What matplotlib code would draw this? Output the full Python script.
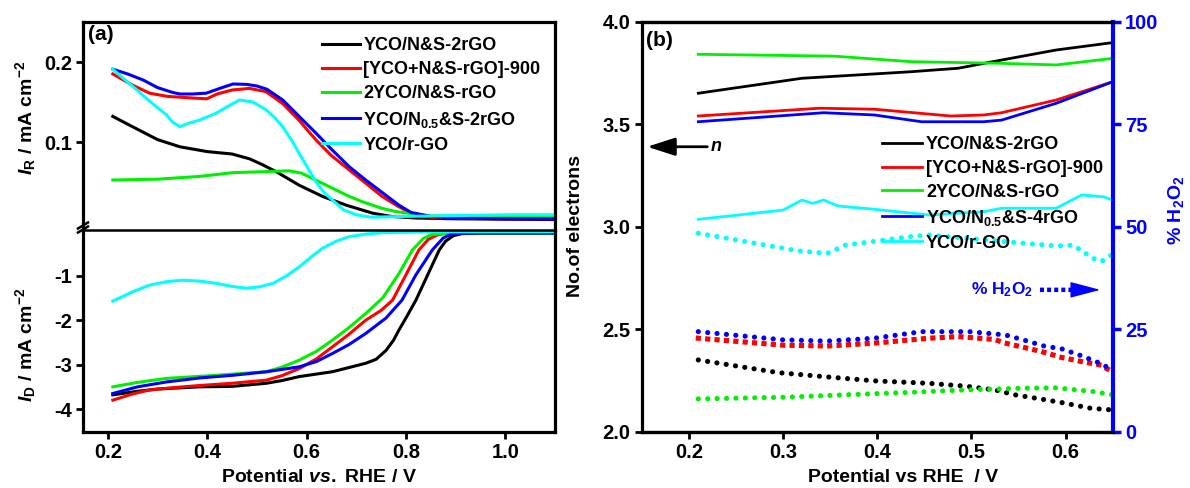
import matplotlib
matplotlib.use('Agg')
import matplotlib.pyplot as plt
from matplotlib.lines import Line2D

plt.rcParams['font.family'] = ['Liberation Sans', 'DejaVu Sans']
plt.rcParams['font.weight'] = 'bold'
plt.rcParams['axes.labelweight'] = 'bold'
plt.rcParams['mathtext.fontset'] = 'custom'
plt.rcParams['mathtext.rm'] = 'Liberation Sans:bold'
plt.rcParams['mathtext.it'] = 'Liberation Sans:italic:bold'
plt.rcParams['mathtext.bf'] = 'Liberation Sans:bold'
plt.rcParams['mathtext.default'] = 'rm'
plt.rcParams['axes.unicode_minus'] = False

# ---- panel (a): ring current (top) ----
x_black_r = [0.21, 0.25, 0.30, 0.345, 0.40, 0.45, 0.485, 0.51, 0.54, 0.585, 0.632, 0.68, 0.733, 0.77, 0.82, 0.90, 1.1]
i_black_r = [0.132, 0.119, 0.103, 0.094, 0.088, 0.085, 0.079, 0.072, 0.0625, 0.046, 0.032, 0.021, 0.011, 0.007, 0.005, 0.004, 0.003]
x_red_r = [0.21, 0.25, 0.284, 0.32, 0.345, 0.37, 0.399, 0.42, 0.45, 0.485, 0.518, 0.552, 0.585, 0.619,
           0.65, 0.686, 0.72, 0.752, 0.786, 0.81, 0.85, 0.90, 1.0, 1.1]
i_red_r = [0.185, 0.171, 0.161, 0.157, 0.156, 0.155, 0.154, 0.160, 0.165, 0.167, 0.163, 0.148, 0.127, 0.1025,
           0.083, 0.065, 0.048, 0.032, 0.019, 0.011, 0.006, 0.005, 0.004, 0.004]
x_green_r = [0.21, 0.30, 0.385, 0.452, 0.519, 0.565, 0.59, 0.61, 0.646, 0.686, 0.712, 0.752, 0.78, 0.847, 0.95, 1.1]
i_green_r = [0.0525, 0.0535, 0.057, 0.0617, 0.063, 0.064, 0.061, 0.055, 0.044, 0.032, 0.0254, 0.017, 0.013, 0.0075, 0.007, 0.007]
x_blue_r = [0.21, 0.24, 0.271, 0.30, 0.33, 0.345, 0.37, 0.398, 0.43, 0.452, 0.48, 0.50, 0.52, 0.552, 0.585,
            0.619, 0.65, 0.686, 0.72, 0.752, 0.786, 0.81, 0.85, 0.90, 1.0, 1.1]
i_blue_r = [0.191, 0.185, 0.1775, 0.168, 0.162, 0.160, 0.160, 0.161, 0.168, 0.1725, 0.172, 0.170, 0.166, 0.1525, 0.132,
            0.111, 0.091, 0.069, 0.052, 0.037, 0.021, 0.012, 0.007, 0.005, 0.004, 0.004]
x_cyan_r = [0.21, 0.251, 0.29, 0.318, 0.33, 0.345, 0.36, 0.385, 0.418, 0.44, 0.465, 0.492, 0.519, 0.535, 0.552,
            0.57, 0.585, 0.60, 0.619, 0.635, 0.652, 0.675, 0.70, 0.73, 0.80, 0.9, 1.0, 1.1]
i_cyan_r = [0.191, 0.169, 0.148, 0.134, 0.125, 0.119, 0.123, 0.1275, 0.136, 0.144, 0.1525, 0.150, 0.140, 0.131, 0.119,
            0.102, 0.086, 0.070, 0.050, 0.037, 0.0275, 0.015, 0.009, 0.006, 0.007, 0.008, 0.009, 0.009]

# ---- panel (a): disk current (bottom) ----
x_black_d = [0.21, 0.26, 0.30, 0.385, 0.45, 0.519, 0.55, 0.585, 0.652, 0.719, 0.74, 0.76, 0.775, 0.786, 0.80,
             0.82, 0.845, 0.867, 0.88, 0.895, 0.913, 0.95, 1.1]
i_black_d = [-3.68, -3.60, -3.55, -3.50, -3.49, -3.42, -3.36, -3.27, -3.16, -2.97, -2.88, -2.68, -2.45, -2.22, -1.95,
             -1.55, -0.95, -0.42, -0.22, -0.10, -0.05, -0.04, -0.04]
x_red_d = [0.21, 0.25, 0.284, 0.33, 0.385, 0.45, 0.519, 0.55, 0.585, 0.62, 0.652, 0.685, 0.719, 0.75, 0.773,
           0.80, 0.826, 0.845, 0.865, 0.88, 0.95, 1.1]
i_red_d = [-3.80, -3.66, -3.57, -3.52, -3.47, -3.42, -3.35, -3.25, -3.09, -2.87, -2.60, -2.32, -2.00, -1.78, -1.55,
           -0.98, -0.42, -0.18, -0.07, -0.05, -0.04, -0.04]
x_green_d = [0.21, 0.26, 0.318, 0.418, 0.519, 0.55, 0.585, 0.62, 0.652, 0.685, 0.719, 0.753, 0.786, 0.813, 0.835,
             0.85, 0.867, 0.95, 1.1]
i_green_d = [-3.50, -3.40, -3.31, -3.24, -3.16, -3.06, -2.90, -2.70, -2.45, -2.17, -1.85, -1.50, -0.95, -0.42, -0.16,
             -0.08, -0.05, -0.04, -0.04]
x_blue_d = [0.21, 0.26, 0.318, 0.385, 0.452, 0.52, 0.585, 0.62, 0.652, 0.685, 0.719, 0.76, 0.792, 0.82, 0.853,
            0.875, 0.89, 0.905, 0.95, 1.1]
i_blue_d = [-3.65, -3.50, -3.39, -3.30, -3.24, -3.16, -3.05, -2.93, -2.75, -2.55, -2.30, -1.95, -1.55, -0.98, -0.42,
            -0.15, -0.07, -0.05, -0.04, -0.04]
x_cyan_d = [0.21, 0.25, 0.284, 0.32, 0.351, 0.385, 0.418, 0.45, 0.479, 0.505, 0.533, 0.56, 0.585, 0.61, 0.632,
            0.66, 0.686, 0.72, 0.753, 0.85, 1.1]
i_cyan_d = [-1.57, -1.36, -1.21, -1.13, -1.10, -1.12, -1.17, -1.24, -1.28, -1.25, -1.17, -1.00, -0.80, -0.57, -0.38,
            -0.22, -0.12, -0.06, -0.03, -0.01, -0.01]

labels_a = ['YCO/N&S-2rGO', '[YCO+N&S-rGO]-900', '2YCO/N&S-rGO',
            'YCO/N$_{0.5}$&S-2rGO', 'YCO/r-GO']
labels_b = ['YCO/N&S-2rGO', '[YCO+N&S-rGO]-900', '2YCO/N&S-rGO',
            'YCO/N$_{0.5}$&S-4rGO', 'YCO/r-GO']
colors = ['#000000', '#ff0000', '#00f000', '#0000ff', '#00ffff']

# ---- panel (b): electron number n (solid) ----
x_black_n = [0.21, 0.32, 0.436, 0.486, 0.532, 0.59, 0.65]
n_black = [3.651, 3.724, 3.756, 3.773, 3.813, 3.862, 3.898]
x_red_n = [0.21, 0.339, 0.397, 0.478, 0.513, 0.532, 0.59, 0.65]
n_red = [3.54, 3.578, 3.573, 3.54, 3.545, 3.556, 3.618, 3.707]
x_green_n = [0.21, 0.354, 0.436, 0.532, 0.59, 0.65]
n_green = [3.841, 3.832, 3.805, 3.797, 3.789, 3.821]
x_blue_n = [0.21, 0.343, 0.397, 0.447, 0.513, 0.532, 0.59, 0.65]
n_blue = [3.512, 3.556, 3.545, 3.512, 3.512, 3.52, 3.602, 3.707]
x_cyan_n = [0.21, 0.30, 0.32, 0.3315, 0.343, 0.3585, 0.397, 0.455, 0.513, 0.532, 0.59, 0.617, 0.64, 0.65]
n_cyan = [3.036, 3.081, 3.13, 3.114, 3.13, 3.101, 3.085, 3.057, 3.073, 3.09, 3.09, 3.155, 3.146, 3.13]

# ---- panel (b): % H2O2 (dotted) ----
x_black_p = [0.21, 0.243, 0.295, 0.345, 0.397, 0.455, 0.494, 0.5245, 0.546, 0.565, 0.596, 0.627, 0.65]
p_black = [17.5, 16.3, 14.4, 13.4, 12.4, 11.8, 11.1, 10.2, 9.0, 8.3, 7.1, 5.7, 5.3]
x_red_p = [0.21, 0.30, 0.347, 0.397, 0.455, 0.486, 0.5245, 0.536, 0.555, 0.575, 0.596, 0.617, 0.6365, 0.65]
p_red = [22.8, 21.1, 20.9, 21.6, 22.8, 23.2, 22.5, 21.6, 20.6, 19.5, 18.1, 17.1, 16.3, 14.6]
x_green_p = [0.21, 0.30, 0.366, 0.436, 0.494, 0.552, 0.59, 0.629, 0.65]
p_green = [8.0, 8.4, 9.0, 9.6, 10.2, 10.6, 10.7, 9.8, 9.0]
x_blue_p = [0.21, 0.30, 0.347, 0.397, 0.447, 0.4975, 0.536, 0.555, 0.577, 0.596, 0.617, 0.6365, 0.65]
p_blue = [24.4, 22.4, 22.1, 22.8, 24.4, 24.4, 23.6, 22.4, 20.9, 20.2, 18.5, 16.7, 15.0]
x_cyan_p = [0.21, 0.262, 0.316, 0.347, 0.366, 0.436, 0.455, 0.513, 0.59, 0.608, 0.629, 0.638, 0.65]
p_cyan = [48.4, 46.3, 44.1, 43.5, 45.5, 47.6, 48.0, 46.8, 45.3, 45.5, 42.3, 41.5, 43.3]

W, H = 1190, 488
fig = plt.figure(figsize=(W / 100, H / 100), dpi=100)

def frac(l, t, r, b):
    return [l / W, 1 - b / H, (r - l) / W, (b - t) / H]

axT = fig.add_axes(frac(83, 22, 555, 230))
axB = fig.add_axes(frac(83, 230, 555, 431.7))
axN = fig.add_axes(frac(641.8, 21.7, 1112.7, 431.7))
axP = axN.twinx()

lw_sp = 2.3
for ax in (axT, axB, axN, axP):
    for s in ax.spines.values():
        s.set_linewidth(lw_sp)
    ax.tick_params(direction='out', length=5, width=2, labelsize=14.5, pad=3)

# panel (a)
ring = [(x_black_r, i_black_r), (x_red_r, i_red_r), (x_green_r, i_green_r),
        (x_blue_r, i_blue_r), (x_cyan_r, i_cyan_r)]
disk = [(x_black_d, i_black_d), (x_red_d, i_red_d), (x_green_d, i_green_d),
        (x_blue_d, i_blue_d), (x_cyan_d, i_cyan_d)]
for (xr, yr), (xd, yd), c, lab in zip(ring, disk, colors, labels_a):
    axT.plot(xr, yr, color=c, lw=2.2, label=lab)
    axB.plot(xd, yd, color=c, lw=2.2)

axT.set_xlim(0.15, 1.1)
axB.set_xlim(0.15, 1.1)
axT.set_ylim(-0.01, 0.25)
axB.set_ylim(-4.51, 0.03)
axT.set_yticks([0.1, 0.2])
axB.set_yticks([-4, -3, -2, -1])
axB.set_xticks([0.2, 0.4, 0.6, 0.8, 1.0])
axT.spines['bottom'].set_visible(False)
axT.tick_params(bottom=False, labelbottom=False)
axB.spines['top'].set_linewidth(1.8)

axT.legend(loc='upper left', bbox_to_anchor=(0.506, 0.926), frameon=False,
           fontsize=13, handlelength=2.1, handletextpad=0.2, labelspacing=0.39,
           borderpad=0, borderaxespad=0)
axT.text(0.01, 0.94, '(a)', transform=axT.transAxes, fontsize=15,
         fontweight='bold', va='center', ha='left')

# axis break marks
for yb in (225.5, 229.5):
    fig.add_artist(Line2D([78 / W, 88 / W], [1 - (yb + 3) / H, 1 - (yb - 3) / H],
                          color='k', lw=1.8))

fig.text(26 / W, 1 - 118 / H, r'$\mathit{I}_{\mathrm{R}}$ / mA cm$^{-2}$',
         rotation=90, ha='center', va='center', fontsize=14)
fig.text(26 / W, 1 - 345 / H, r'$\mathit{I}_{\mathrm{D}}$ / mA cm$^{-2}$',
         rotation=90, ha='center', va='center', fontsize=14)
fig.text(319 / W, 1 - 477 / H, r'Potential $\mathit{vs.}$ RHE / V',
         ha='center', va='center', fontsize=14)

# panel (b)
nser = [(x_black_n, n_black), (x_red_n, n_red), (x_green_n, n_green),
        (x_blue_n, n_blue), (x_cyan_n, n_cyan)]
pser = [(x_black_p, p_black), (x_red_p, p_red), (x_green_p, p_green),
        (x_blue_p, p_blue), (x_cyan_p, p_cyan)]
handles = []
for (xn, yn), c, lab in zip(nser, colors, labels_b):
    h, = axN.plot(xn, yn, color=c, lw=2.0, label=lab)
    handles.append(h)
for (xp, yp), c in zip(pser, colors):
    cap = 'projecting' if c == '#ff0000' else 'round'
    axP.plot(xp, yp, color=c, lw=3.7, linestyle=(0, (0.01, 1.82)),
             dash_capstyle=cap)

axN.set_xlim(0.15, 0.65)
axN.set_ylim(2.0, 4.0)
axP.set_ylim(0, 100)
axN.set_xticks([0.2, 0.3, 0.4, 0.5, 0.6])
axN.set_yticks([2.0, 2.5, 3.0, 3.5, 4.0])
axP.set_yticks([0, 25, 50, 75, 100])
axN.spines['right'].set_visible(False)
axP.spines['left'].set_visible(False)
axP.spines['right'].set_color('#0000ff')
axP.spines['right'].set_linewidth(3)
axP.tick_params(axis='y', colors='#0000ff', width=2.5, length=6)
for t in axP.get_yticklabels():
    t.set_color('#0000ff')

axP.legend(handles=handles, loc='upper left', bbox_to_anchor=(0.5097, 0.721),
           frameon=False, fontsize=13, handlelength=2.2, handletextpad=0.25,
           labelspacing=0.38, borderpad=0, borderaxespad=0)
axN.text(0.008, 0.955, '(b)', transform=axN.transAxes, fontsize=15,
         fontweight='bold', va='center', ha='left')

# n arrow
axN.annotate('', xy=(0.1558, 3.39), xytext=(0.2196, 3.39),
             arrowprops=dict(arrowstyle='-|>,head_length=1.7,head_width=0.55',
                             color='k', lw=2, mutation_scale=10,
                             shrinkA=0, shrinkB=0))
axN.text(0.2236, 3.39, 'n', fontsize=13, fontstyle='italic', fontweight='bold',
         ha='left', va='center')

# % H2O2 arrow
axP.text(0.4995, 34.6, '% H$_2$O$_2$', color='#0000ff', fontsize=12.5,
         ha='left', va='center')
axP.annotate('', xy=(0.6076, 34.6), xytext=(0.5728, 34.6),
             arrowprops=dict(arrowstyle='-', color='#0000ff', lw=3.2,
                             linestyle=(0, (0.9, 0.7)), capstyle='butt',
                             shrinkA=0, shrinkB=0))
axP.annotate('', xy=(0.6368, 34.6), xytext=(0.606, 34.6),
             arrowprops=dict(arrowstyle='-|>,head_length=1.9,head_width=0.5',
                             color='#0000ff', lw=1, mutation_scale=10,
                             shrinkA=0, shrinkB=0))

fig.text(576 / W, 1 - 226 / H, 'No.of electrons', rotation=90,
         ha='center', va='center', fontsize=14)
fig.text(1176 / W, 1 - 210 / H, '% H$_2$O$_2$', rotation=90, color='#0000ff',
         ha='center', va='center', fontsize=14)
fig.text(903 / W, 1 - 477 / H, 'Potential vs RHE  / V',
         ha='center', va='center', fontsize=14)

fig.savefig('out.png', dpi=100)
